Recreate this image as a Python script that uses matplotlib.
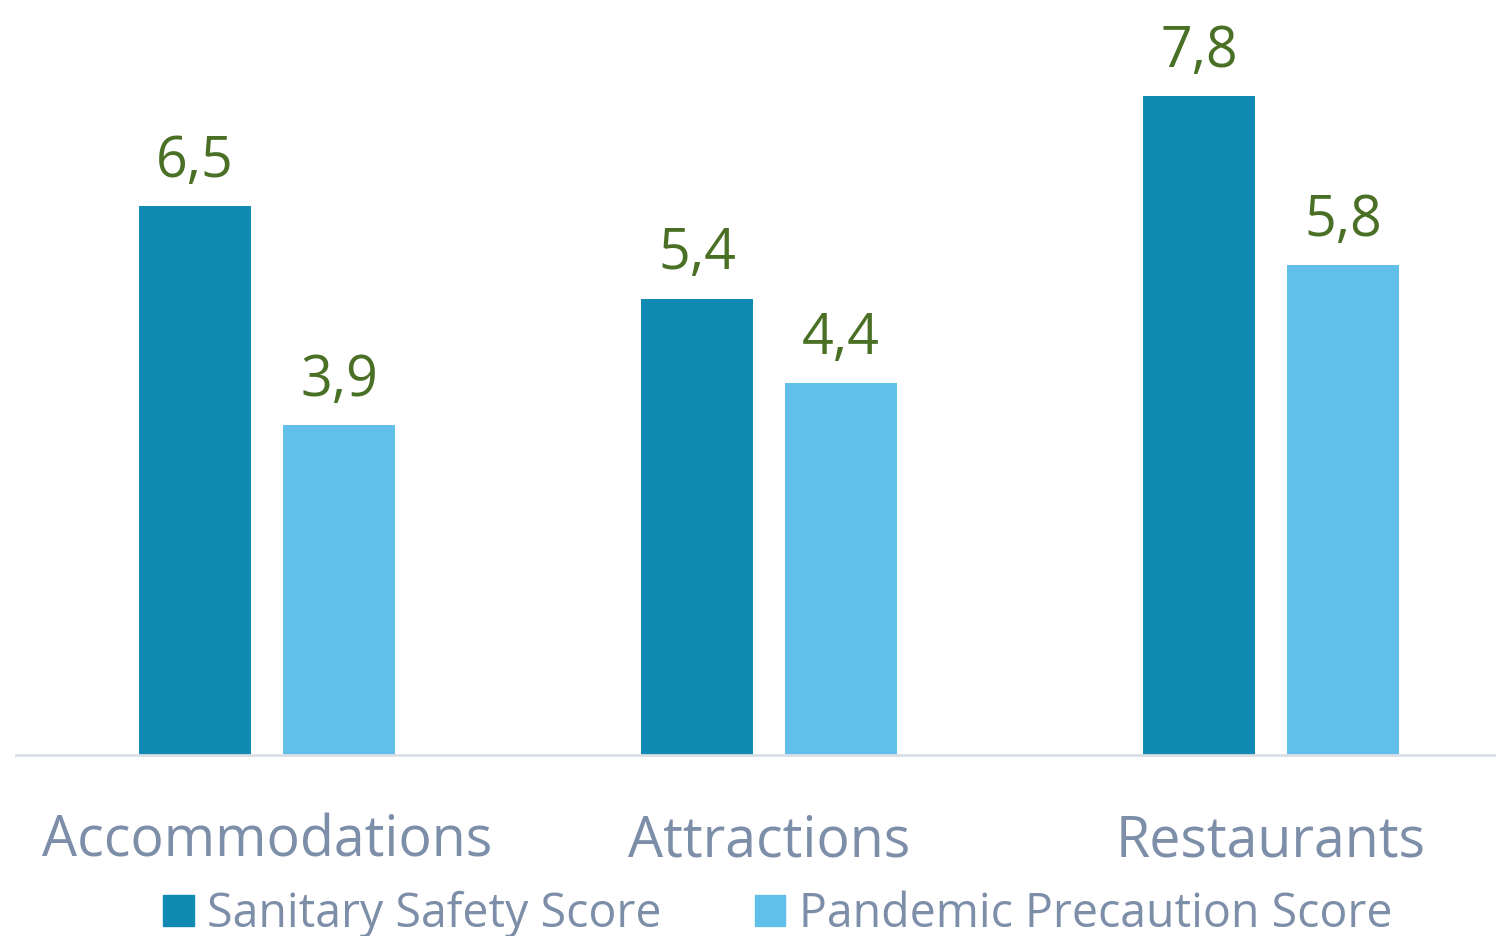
import matplotlib
matplotlib.use("Agg")
import matplotlib.pyplot as plt
from matplotlib.patches import Patch
import numpy as np

categories = ["Accommodations", "Attractions", "Restaurants"]
sanitary = [6.5, 5.4, 7.8]
pandemic = [3.9, 4.4, 5.8]
series_names = ["Sanitary Safety Score", "Pandemic Precaution Score"]

dark = "#108AB3"
light = "#61BFE9"
txt = "#7D8EA9"
green = "#4A7026"

plt.rcParams['font.family'] = ['Open Sans', 'DejaVu Sans']

W, H = 1496, 936
fig = plt.figure(figsize=(W/100, H/100), dpi=100)
ax = fig.add_axes([16/W, (H-755)/H, (1496-16)/W, 752/H])

x = np.arange(len(categories))
bw = 112/502
off = 72/502
b1 = ax.bar(x - off, sanitary, bw, color=dark)
b2 = ax.bar(x + off, pandemic, bw, color=light)

for bars, vals in ((b1, sanitary), (b2, pandemic)):
    for r, v in zip(bars, vals):
        ax.annotate(f"{v:.1f}".replace(".", ","), (r.get_x()+r.get_width()/2, v),
                    xytext=(0, 11), textcoords="offset points", ha="center", va="bottom",
                    fontsize=40, color=green)

ax.set_xlim(-0.5, 2.5 - 26/502)
ax.set_ylim(0, 8.9)
ax.set_yticks([])
ax.set_xticks(x)
ax.set_xticklabels(categories, fontsize=40, color=txt)
ax.tick_params(axis='x', length=0, pad=42)
for s in ("top", "right", "left"):
    ax.spines[s].set_visible(False)
ax.spines["bottom"].set_color("#D9DEE6")
ax.spines["bottom"].set_linewidth(2)

handles = [Patch(color=dark), Patch(color=light)]
leg = fig.legend(handles, series_names, loc="center", bbox_to_anchor=(778/W, 1-914/H),
                 ncol=2, frameon=False, fontsize=33.5, labelcolor=txt,
                 handlelength=0.65, handleheight=0.65, handletextpad=0.3, columnspacing=2.0)

fig.savefig("out.png", dpi=100)
